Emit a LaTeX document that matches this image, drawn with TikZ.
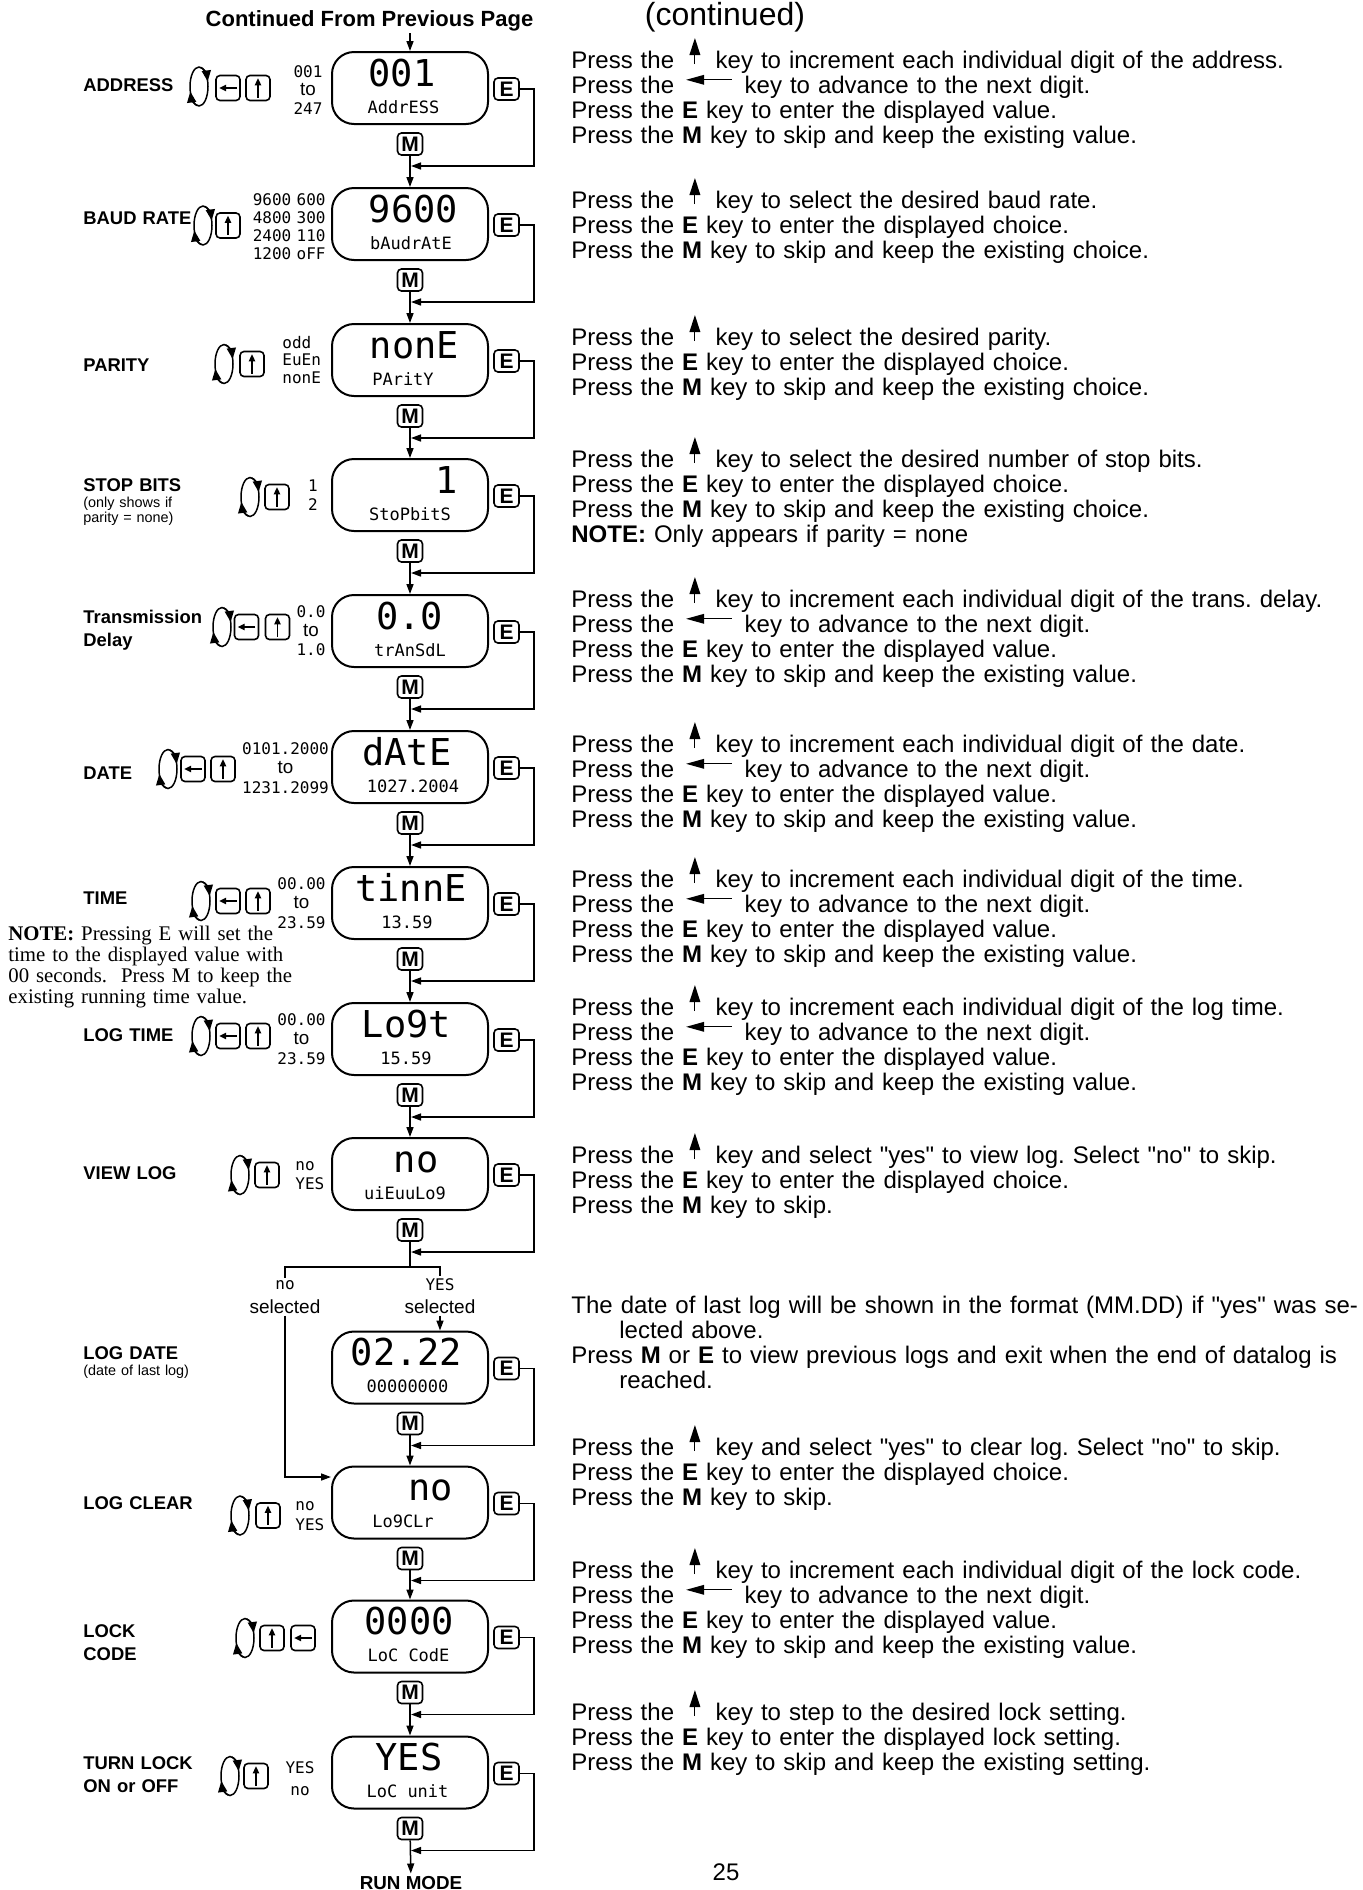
\documentclass[tikz,border=0pt]{standalone}
\usepackage{fontspec}
\setmainfont{Liberation Sans}
\newfontfamily\notefont{Liberation Serif}
\newfontfamily\lcdfont{DejaVu Sans Mono}
\usetikzlibrary{arrows.meta}
\frenchspacing

\newcommand{\tofont}{\rmfamily\fontsize{9.4}{9.4}\selectfont}
\newcommand{\qq}[1]{\textquotedbl#1\textquotedbl}
% arrow glyphs used inside the running text
\newcommand{\upglyph}{\makebox[12.8pt]{\tikz[baseline=0pt]{\draw[line width=0.5pt] (0pt,1.9pt) -- (0pt,8pt); \fill (-2.75pt,6.5pt) -- (0pt,15pt) -- (2.75pt,6.5pt) -- cycle;}}}
\newcommand{\leftglyph}{\makebox[27.3pt]{\tikz[baseline=0pt]{\draw[line width=0.6pt] (8pt,6.7pt) -- (23pt,6.7pt); \fill (0pt,6.7pt) -- (9pt,9.2pt) -- (9pt,4.2pt) -- cycle;}}}

\tikzset{
  lcd/.style={draw, line width=1pt, rounded corners=11pt, minimum width=78pt, minimum height=36pt, inner sep=0pt},
  bigseg/.style={anchor=base, inner sep=0pt, font=\lcdfont\fontsize{18.5}{18.5}\selectfont},
  smallseg/.style={anchor=base, inner sep=0pt, font=\lcdfont\fontsize{8.5}{8.5}\selectfont},
  choices/.style={anchor=base, inner sep=0pt, text width=50pt, align=center, font=\lcdfont\fontsize{8}{9.5}\selectfont},
  btn/.style={draw, line width=0.8pt, rounded corners=2pt, minimum width=12.5pt, minimum height=11pt, inner sep=0pt, font=\bfseries\fontsize{10.5}{10.5}\selectfont},
  arrkey/.style={draw, line width=0.8pt, rounded corners=2pt, minimum width=12pt, minimum height=12.5pt, inner sep=0pt},
  keytip/.style={line width=0.6pt, -{Triangle[length=3.5pt,width=3.2pt]}},
  wire/.style={line width=0.75pt},
  flow/.style={line width=0.75pt, -{Triangle[length=5pt,width=3.5pt]}},
  spintip/.style={line width=0.75pt, -{Triangle[length=5.5pt,width=4.5pt]}},
  rowlabel/.style={anchor=base west, inner sep=0pt, text width=85pt, align=left, font=\bfseries\fontsize{9.2}{11.25}\selectfont},
  hint/.style={anchor=base west, inner sep=0pt, text width=60pt, align=left, font=\fontsize{7.2}{7.5}\selectfont},
  txt/.style={anchor=base west, inner sep=0pt, text width=395pt, align=left, font=\fontsize{12}{12.6}\selectfont},
  note/.style={anchor=base west, inner sep=0pt, text width=160pt, align=left, font=\notefont\fontsize{10.4}{10.65}\selectfont},
  spinner/.pic={
    \draw[line width=0.75pt] (0,0) ellipse [x radius=9, y radius=19.5];
    \draw[spintip] (100:9 and 19.5) arc[start angle=100, end angle=165, x radius=9, y radius=19.5];
    \draw[spintip] (280:9 and 19.5) arc[start angle=280, end angle=345, x radius=9, y radius=19.5];
  },
}

\newcommand{\upkey}[3]{%
  \node[arrkey] (#1) at (#2,#3) {};
  \draw[keytip] ([yshift=1.8pt]#1.south) -- ([yshift=-1.8pt]#1.north);}
\newcommand{\leftkey}[3]{%
  \node[arrkey] (#1) at (#2,#3) {};
  \draw[keytip] ([xshift=-2pt]#1.east) -- ([xshift=2pt]#1.west);}

\begin{document}
\begin{tikzpicture}[x=0.5pt,y=-0.5pt]
\path[use as bounding box, fill=white] (0,0) rectangle (1362,1890);

\node[anchor=base, font=\fontsize{16}{16}\selectfont] (cont) at (725,25) {(continued)};
\node[anchor=base, inner sep=1pt, font=\bfseries\fontsize{11}{11}\selectfont] (title) at (369.5,26) {Continued From Previous Page};

% displays with their E and M keys
\foreach \row/\cy in {addr/88, baud/224, par/360, stop/495, trans/631, date/767, time/903, logt/1039, view/1174, logd/1367.5, logc/1502.5, lock/1636.5, lockon/1772.5} {
  \node[lcd] (\row) at (410,\cy) {};
  \node[btn] (\row-e) at (506.5,\cy+1) {E};
  \node[btn] (\row-m) at (410,\cy+56) {M};
  \coordinate (\row-j) at (411,\cy+78);
  \draw[flow] (\row-e.east) -- ++(14,0) |- (\row-j);
}
\foreach \a/\b in {addr/baud, baud/par, par/stop, stop/trans, trans/date, date/time, time/logt, logt/view, logd/logc, logc/lock, lock/lockon}
  \draw[flow] (\a-m) -- (\b);
\draw[flow] (title.south -| addr.north) -- (addr.north);

% display texts
\node[bigseg] (addr-big) at (402,86) {001};
\node[smallseg] (addr-small) at (403.5,113) {AddrESS};
\node[bigseg] (baud-big) at (413.5,222) {9600};
\node[smallseg] (baud-small) at (411,249) {bAudrAtE};
\node[bigseg] (par-big) at (414.5,358) {nonE};
\node[smallseg] (par-small) at (403,385) {PAritY};
\node[bigseg] (stop-big) at (447,493) {1};
\node[smallseg] (stop-small) at (410,520) {StoPbitS};
\node[bigseg] (trans-big) at (409.5,629) {0.0};
\node[smallseg] (trans-small) at (410,656) {trAnSdL};
\node[bigseg] (date-big) at (407,765) {dAtE};
\node[smallseg] (date-small) at (413,792) {1027.2004};
\node[bigseg] (time-big) at (411,901) {tinnE};
\node[smallseg] (time-small) at (407,928) {13.59};
\node[bigseg] (logt-big) at (406.5,1037) {Lo9t};
\node[smallseg] (logt-small) at (406,1064) {15.59};
\node[bigseg] (view-big) at (416,1172) {no};
\node[smallseg] (view-small) at (405,1199) {uiEuuLo9};
\node[bigseg] (logd-big) at (406.5,1365.5) {02.22};
\node[smallseg] (logd-small) at (407.5,1392.5) {00000000};
\node[bigseg] (logc-big) at (430.5,1500.5) {no};
\node[smallseg] (logc-small) at (403,1527.5) {Lo9CLr};
\node[bigseg] (lock-big) at (409,1634.5) {0000};
\node[smallseg] (lock-small) at (408.5,1661.5) {LoC CodE};
\node[bigseg] (lockon-big) at (409,1770.5) {YES};
\node[smallseg] (lockon-small) at (407.5,1797.5) {LoC unit};

% choices beside the displays
\node[choices, font=\lcdfont\fontsize{8}{9.25}\selectfont] (addr-range) at (308,77) {001\\{\tofont to}\\247};
\node[choices, text width=45pt, align=right, anchor=base east, font=\lcdfont\fontsize{8}{9}\selectfont] (baud-range) at (326,205) {9600 600\\4800 300\\2400 110\\1200 oFF};
\node[choices, align=left, anchor=base west, font=\lcdfont\fontsize{8}{8.75}\selectfont] (par-range) at (282,348) {odd\\EuEn\\nonE};
\node[choices] (stop-range) at (313,491) {1\\2};
\node[choices] (trans-range) at (311,617) {0.0\\{\tofont to}\\1.0};
\node[choices, font=\lcdfont\fontsize{8}{9.75}\selectfont] (date-range) at (285.5,754) {0101.2000\\{\tofont to}\\1231.2099};
\node[choices, font=\lcdfont\fontsize{8}{9.75}\selectfont] (time-range) at (301.5,889) {00.00\\{\tofont to}\\23.59};
\node[choices, font=\lcdfont\fontsize{8}{9.75}\selectfont] (logt-range) at (301.5,1025) {00.00\\{\tofont to}\\23.59};
\node[choices, align=left, anchor=base west] (view-range) at (295,1170) {no\\YES};
\node[choices, align=left, anchor=base west, font=\lcdfont\fontsize{8}{10}\selectfont] (logc-range) at (295,1510) {no\\YES};
\node[choices, font=\lcdfont\fontsize{8}{11}\selectfont] (lockon-range) at (300,1773) {YES\\no};

% rotate symbols and arrow keys
\pic (addr-spin) at (199,86.5) {spinner};
\leftkey{addr-left}{228}{88}
\upkey{addr-up}{258}{88}
\pic (baud-spin) at (203,225.5) {spinner};
\upkey{baud-up}{228}{225.5}
\pic (par-spin) at (224,364) {spinner};
\upkey{par-up}{252}{364}
\pic (stop-spin) at (250,497) {spinner};
\upkey{stop-up}{277}{497}
\pic (trans-spin) at (222,627) {spinner};
\leftkey{trans-left}{246.5}{627}
\upkey{trans-up}{277.5}{627}
\pic (date-spin) at (168,769) {spinner};
\leftkey{date-left}{193}{769}
\upkey{date-up}{223}{769}
\pic (time-spin) at (201,901) {spinner};
\leftkey{time-left}{228}{901}
\upkey{time-up}{258}{901}
\pic (logt-spin) at (201,1036) {spinner};
\leftkey{logt-left}{228}{1036}
\upkey{logt-up}{258}{1036}
\pic (view-spin) at (240,1175) {spinner};
\upkey{view-up}{267}{1175}
\pic (logc-spin) at (240,1515.5) {spinner};
\upkey{logc-up}{268}{1515.5}
\pic (lock-spin) at (245,1638) {spinner};
\upkey{lock-up}{272}{1638}
\leftkey{lock-left}{303}{1638}
\pic (lockon-spin) at (230,1776) {spinner};
\upkey{lockon-up}{256}{1776}

% row names
\node[rowlabel] (addr-name) at (83,91.5) {ADDRESS};
\node[rowlabel] (baud-name) at (83,224.5) {BAUD RATE};
\node[rowlabel] (par-name) at (83,371.5) {PARITY};
\node[rowlabel] (stop-name) at (83,491.5) {STOP BITS};
\node[hint] (stop-hint) at (83,507) {(only shows if\\parity = none)};
\node[rowlabel] (trans-name) at (83,623.5) {Transmission\\Delay};
\node[rowlabel] (date-name) at (83,779.5) {DATE};
\node[rowlabel] (time-name) at (83,904.5) {TIME};
\node[note] (time-note) at (8,940) {\textbf{NOTE:} Pressing E will set the\\time to the displayed value with\\00 seconds.\ \ Press M to keep the\\existing running time value.};
\node[rowlabel] (logt-name) at (83,1041.5) {LOG TIME};
\node[rowlabel] (view-name) at (83,1179.5) {VIEW LOG};
\node[rowlabel] (logd-name) at (83,1359.5) {LOG DATE};
\node[hint] (logd-hint) at (83,1375) {(date of last log)};
\node[rowlabel] (logc-name) at (83,1509.5) {LOG CLEAR};
\node[rowlabel] (lock-name) at (83,1637.5) {LOCK\\CODE};
\node[rowlabel] (lockon-name) at (83,1769.5) {TURN LOCK\\ON or OFF};

% view log branch
\node[anchor=base, inner sep=1pt, font=\lcdfont\fontsize{8}{8}\selectfont] (no-lbl) at (285,1289) {no};
\node[anchor=base, inner sep=1pt, font=\fontsize{9.5}{9.5}\selectfont] (no-sel) at (285,1313) {selected};
\node[anchor=base, inner sep=1pt, font=\lcdfont\fontsize{8}{8}\selectfont] (yes-lbl) at (440,1290) {YES};
\node[anchor=base, inner sep=1pt, font=\fontsize{9.5}{9.5}\selectfont] (yes-sel) at (440,1313) {selected};
\coordinate (split) at (410,1267);
\coordinate (clr-in) at (331,1477);
\draw[wire] (view-m) -- (split);
\draw[wire] (no-lbl) -- (no-lbl |- split) -- (yes-lbl |- split) -- (yes-lbl);
\draw[flow] (no-sel.south) |- (clr-in);
\draw[flow] (yes-sel.south) -- (yes-sel.south |- logd.north);

\node[anchor=base, inner sep=1pt, font=\bfseries\fontsize{9.4}{9.4}\selectfont] (runmode) at (411,1889) {RUN MODE};
\draw[flow] (lockon-m) -- (runmode);

% explanations
\node[txt] (t-addr) at (571,68) {Press the \upglyph{} key to increment each individual digit of the address.\\
Press the \leftglyph{} key to advance to the next digit.\\
Press the \textbf{E} key to enter the displayed value.\\
Press the \textbf{M} key to skip and keep the existing value.};
\node[txt] (t-baud) at (571,208) {Press the \upglyph{} key to select the desired baud rate.\\
Press the \textbf{E} key to enter the displayed choice.\\
Press the \textbf{M} key to skip and keep the existing choice.};
\node[txt] (t-par) at (571,345) {Press the \upglyph{} key to select the desired parity.\\
Press the \textbf{E} key to enter the displayed choice.\\
Press the \textbf{M} key to skip and keep the existing choice.};
\node[txt] (t-stop) at (571,467) {Press the \upglyph{} key to select the desired number of stop bits.\\
Press the \textbf{E} key to enter the displayed choice.\\
Press the \textbf{M} key to skip and keep the existing choice.\\
\textbf{NOTE:} Only appears if parity = none};
\node[txt] (t-trans) at (571,607) {Press the \upglyph{} key to increment each individual digit of the trans. delay.\\
Press the \leftglyph{} key to advance to the next digit.\\
Press the \textbf{E} key to enter the displayed value.\\
Press the \textbf{M} key to skip and keep the existing value.};
\node[txt] (t-date) at (571,752) {Press the \upglyph{} key to increment each individual digit of the date.\\
Press the \leftglyph{} key to advance to the next digit.\\
Press the \textbf{E} key to enter the displayed value.\\
Press the \textbf{M} key to skip and keep the existing value.};
\node[txt] (t-time) at (571,887) {Press the \upglyph{} key to increment each individual digit of the time.\\
Press the \leftglyph{} key to advance to the next digit.\\
Press the \textbf{E} key to enter the displayed value.\\
Press the \textbf{M} key to skip and keep the existing value.};
\node[txt] (t-logt) at (571,1015) {Press the \upglyph{} key to increment each individual digit of the log time.\\
Press the \leftglyph{} key to advance to the next digit.\\
Press the \textbf{E} key to enter the displayed value.\\
Press the \textbf{M} key to skip and keep the existing value.};
\node[txt] (t-view) at (571,1163) {Press the \upglyph{} key and select \qq{yes} to view log. Select \qq{no} to skip.\\
Press the \textbf{E} key to enter the displayed choice.\\
Press the \textbf{M} key to skip.};
\node[txt] (t-logd) at (571,1313) {\makebox[386.5pt][s]{The date of last log will be shown in the format (MM.DD) if \qq{yes} was se-}\\
\hspace*{24pt}lected above.\\
\makebox[386.5pt][s]{Press \textbf{M} or \textbf{E} to view previous logs and exit when the end of datalog is}\\
\hspace*{24pt}reached.};
\node[txt] (t-logc) at (571,1455) {Press the \upglyph{} key and select \qq{yes} to clear log. Select \qq{no} to skip.\\
Press the \textbf{E} key to enter the displayed choice.\\
Press the \textbf{M} key to skip.};
\node[txt] (t-lock) at (571,1578) {Press the \upglyph{} key to increment each individual digit of the lock code.\\
Press the \leftglyph{} key to advance to the next digit.\\
Press the \textbf{E} key to enter the displayed value.\\
Press the \textbf{M} key to skip and keep the existing value.};
\node[txt] (t-lockon) at (571,1720) {Press the \upglyph{} key to step to the desired lock setting.\\
Press the \textbf{E} key to enter the displayed lock setting.\\
Press the \textbf{M} key to skip and keep the existing setting.};

\node[anchor=base, inner sep=0pt, font=\fontsize{12}{12}\selectfont] (pagenum) at (726,1880) {25};
\end{tikzpicture}
\end{document}
